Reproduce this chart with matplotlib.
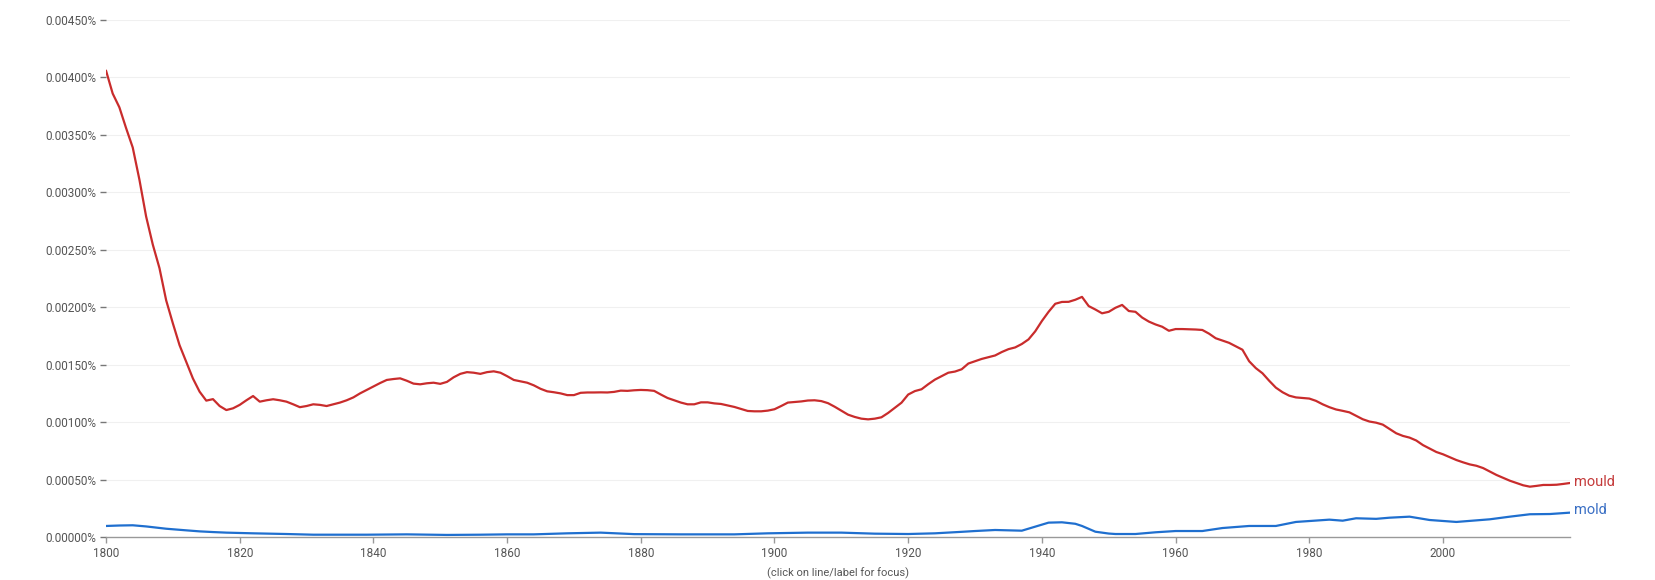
import numpy as np
import matplotlib.pyplot as plt
from matplotlib.ticker import FuncFormatter

# values in thousandths of a percent (0.001%)
mould_years = list(range(1800, 2020))
mould_vals = [
    4.06, 3.86, 3.74, 3.56, 3.39, 3.11, 2.79, 2.545, 2.34, 2.06,
    1.86, 1.67, 1.526, 1.38, 1.265, 1.187, 1.20, 1.14, 1.105, 1.12,
    1.15, 1.19, 1.227, 1.178, 1.19, 1.199, 1.19, 1.178, 1.155, 1.13,
    1.14, 1.155, 1.15, 1.14, 1.155, 1.17, 1.19, 1.215, 1.25, 1.28,
    1.31, 1.34, 1.367, 1.375, 1.381, 1.36, 1.335, 1.329, 1.338, 1.343,
    1.333, 1.35, 1.39, 1.42, 1.435, 1.43, 1.42, 1.435, 1.442, 1.43,
    1.40, 1.367, 1.355, 1.343, 1.32, 1.29, 1.268, 1.26, 1.25, 1.235,
    1.235, 1.255, 1.258, 1.258, 1.259, 1.258, 1.263, 1.274, 1.272, 1.277,
    1.28, 1.278, 1.272, 1.24, 1.21, 1.19, 1.17, 1.155, 1.155, 1.172,
    1.172, 1.163, 1.158, 1.145, 1.132, 1.115, 1.097, 1.094, 1.094, 1.10,
    1.112, 1.14, 1.17, 1.175, 1.18, 1.188, 1.19, 1.183, 1.165, 1.134,
    1.10, 1.065, 1.045, 1.03, 1.024, 1.03, 1.042, 1.08, 1.125, 1.169,
    1.24, 1.27, 1.286, 1.33, 1.37, 1.40, 1.43, 1.44, 1.46, 1.51,
    1.53, 1.55, 1.565, 1.58, 1.61, 1.635, 1.65, 1.68, 1.72, 1.79,
    1.88, 1.96, 2.03, 2.046, 2.047, 2.065, 2.09, 2.01, 1.98, 1.947,
    1.96, 1.995, 2.02, 1.967, 1.96, 1.91, 1.875, 1.85, 1.83, 1.795,
    1.81, 1.81, 1.808, 1.806, 1.802, 1.77, 1.73, 1.71, 1.69, 1.66,
    1.63, 1.53, 1.47, 1.425, 1.36, 1.30, 1.26, 1.23, 1.215, 1.21,
    1.205, 1.185, 1.155, 1.13, 1.11, 1.098, 1.085, 1.055, 1.025, 1.005,
    0.995, 0.978, 0.94, 0.903, 0.88, 0.865, 0.84, 0.80, 0.77, 0.74,
    0.72, 0.695, 0.67, 0.65, 0.632, 0.62, 0.60, 0.57, 0.54, 0.515,
    0.49, 0.47, 0.45, 0.438, 0.445, 0.453, 0.453, 0.455, 0.462, 0.47,
]

mold_years = [1800, 1802, 1804, 1806, 1809, 1812, 1814, 1816, 1818, 1822,
              1827, 1831, 1839, 1845, 1851, 1856, 1860, 1864, 1869, 1874,
              1879, 1886, 1894, 1899, 1905, 1910, 1915, 1920, 1924, 1928,
              1930, 1933, 1935, 1937, 1939, 1941, 1943, 1945, 1946, 1948,
              1950, 1951, 1954, 1957, 1960, 1964, 1967, 1971, 1975, 1978,
              1983, 1985, 1987, 1990, 1992, 1995, 1998, 2002, 2007, 2010,
              2013, 2016, 2019]
mold_vals = [0.096, 0.10, 0.102, 0.092, 0.072, 0.058, 0.049, 0.043, 0.038, 0.032,
             0.026, 0.020, 0.020, 0.023, 0.018, 0.020, 0.023, 0.023, 0.032, 0.038,
             0.025, 0.023, 0.023, 0.032, 0.038, 0.038, 0.029, 0.026, 0.032, 0.045,
             0.052, 0.061, 0.058, 0.055, 0.090, 0.125, 0.128, 0.115, 0.096, 0.046,
             0.030, 0.026, 0.026, 0.041, 0.052, 0.052, 0.078, 0.096, 0.096, 0.131,
             0.151, 0.142, 0.163, 0.158, 0.168, 0.177, 0.148, 0.131, 0.154, 0.177,
             0.198, 0.20, 0.212]

x_ticks = [1800, 1820, 1840, 1860, 1880, 1900, 1920, 1940, 1960, 1980, 2000]
y_ticks = [0, 0.5, 1.0, 1.5, 2.0, 2.5, 3.0, 3.5, 4.0, 4.5]

red = "#c92c2c"
blue = "#1f6fcf"
grey = "#555555"

plt.rcParams["font.family"] = ["Roboto", "DejaVu Sans"]

fig = plt.figure(figsize=(16.55, 5.8), dpi=100)
ax = fig.add_axes([106 / 1655, 43 / 580, 1464 / 1655, 517 / 580])

ax.plot(mould_years, np.array(mould_vals), color=red, lw=1.6, solid_capstyle="round")
ax.plot(mold_years, np.array(mold_vals), color=blue, lw=1.6, solid_capstyle="round")

ax.set_xlim(1800, 2019)
ax.set_ylim(0, 4.5)
ax.set_xticks(x_ticks)
ax.set_yticks(y_ticks)
ax.yaxis.set_major_formatter(FuncFormatter(lambda v, p: f"{v / 1000:.5f}%"))

for v in y_ticks[1:]:
    ax.axhline(v, color="#f0f0f0", lw=0.8, zorder=0)

for s in ["top", "right", "left"]:
    ax.spines[s].set_visible(False)
ax.spines["bottom"].set_color("#999999")
ax.spines["bottom"].set_linewidth(1)

ax.tick_params(axis="y", length=4, width=1, color="#777777", pad=3,
               labelsize=8.5, labelcolor=grey)
ax.tick_params(axis="x", length=4, width=1, color="#999999", pad=3,
               labelsize=8.5, labelcolor=grey)

ax.annotate("mould", (mould_years[-1], mould_vals[-1]), xytext=(3, 1),
            textcoords="offset points", color="#c43a3a", fontsize=10.5, va="center")
ax.annotate("mold", (mold_years[-1], mold_vals[-1]), xytext=(3, 2),
            textcoords="offset points", color="#3a6fc4", fontsize=10.5, va="center")

fig.text(838 / 1655, 1 / 580, "(click on line/label for focus)", ha="center",
         va="bottom", fontsize=8, color=grey)

fig.savefig("out.png", dpi=100, facecolor="white")
